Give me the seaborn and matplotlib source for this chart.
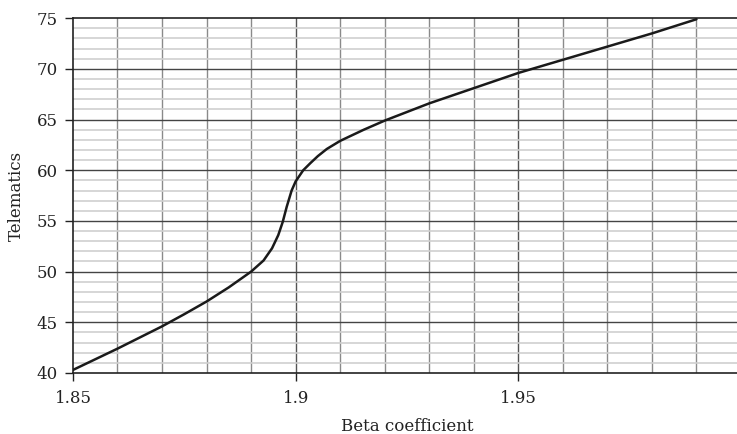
import matplotlib.pyplot as plt
import numpy as np
import pandas as pd
import seaborn as sns

# values
beta = [1.85, 1.86, 1.87, 1.875, 1.88, 1.885, 1.89, 1.8928, 1.8947,
        1.8961, 1.8971, 1.898, 1.8991, 1.90, 1.9017, 1.9033, 1.905, 1.907, 1.91,
        1.9153, 1.92, 1.93, 1.94, 1.95, 1.96, 1.97, 1.98, 1.99]
telematics = [40.3, 42.4, 44.6, 45.8, 47.05, 48.45, 50.0, 51.1, 52.3,
              53.6, 54.9, 56.4, 58.0, 58.9, 60.0, 60.7, 61.4, 62.1, 62.9,
              64.0, 64.9, 66.6, 68.1, 69.6, 70.9, 72.2, 73.5, 74.9]
x_ticks = [1.85, 1.9, 1.95, 2.0]
x_tick_labels = ["1.85", "1.9", "1.95", "2"]
y_ticks = [40, 45, 50, 55, 60, 65, 70, 75]

df = pd.DataFrame({"beta": beta, "telematics": telematics})

sns.set_style("white")
plt.rcParams["font.family"] = ["DejaVu Serif"]

fig = plt.figure(figsize=(7.37, 4.34), dpi=100)
ax = fig.add_axes([0.099, 0.1406, 0.9064, 0.8174])

# grid: minor lines every 0.01 / 1 unit, major every 0.05 / 5 units
for xv in np.arange(1.86, 2.0, 0.01):
    major = abs(round(xv / 0.05) * 0.05 - xv) < 1e-6
    ax.axvline(xv, color="#555555" if major else "#8a8a8a", lw=1.0, zorder=1)
for yv in range(41, 75):
    major = yv % 5 == 0
    ax.axhline(yv, color="#444444" if major else "#cfcfcf", lw=1.0 if major else 1.2, zorder=1)

sns.lineplot(data=df, x="beta", y="telematics", ax=ax, color="#1a1a1a", lw=1.8, zorder=3)

ax.set_xlim(1.85, 2.0)
ax.set_ylim(40, 75)
ax.set_xticks(x_ticks)
ax.set_xticklabels(x_tick_labels)
ax.set_yticks(y_ticks)
ax.tick_params(axis="both", direction="out", length=6, width=1, color="#222222",
               labelsize=12, labelcolor="#222222", left=True, bottom=True)
ax.tick_params(axis="x", pad=6)
ax.tick_params(axis="y", pad=5)

for side in ["left", "bottom", "top"]:
    ax.spines[side].set_color("#222222")
    ax.spines[side].set_linewidth(1.2)
ax.spines["right"].set_visible(False)

ax.set_xlabel("Beta coefficient", fontsize=12, color="#222222", labelpad=8)
ax.set_ylabel("Telematics", fontsize=12, color="#222222", labelpad=8)

fig.savefig("out.png", dpi=100)
